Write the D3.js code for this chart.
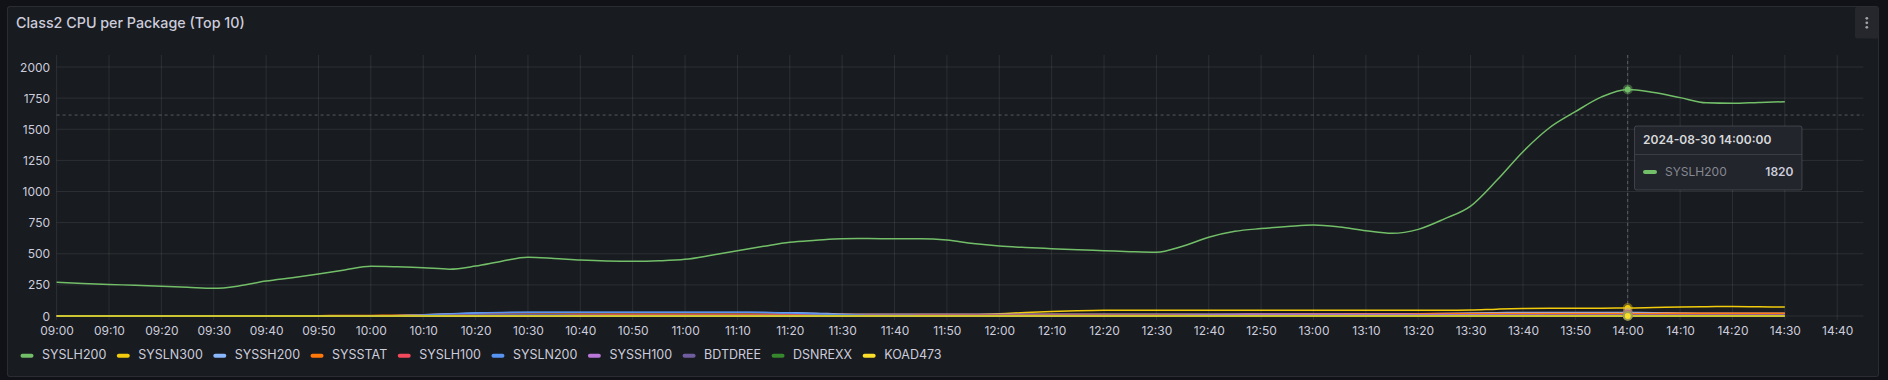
<!DOCTYPE html>
<html><head><meta charset="utf-8">
<script src="https://cdn.jsdelivr.net/npm/d3@7"></script>
<style>
html,body{margin:0;padding:0;background:#111217;}
body{width:1888px;height:380px;overflow:hidden;font-family:Inter,"Noto Sans",sans-serif;}
</style></head><body>
<svg id="chart" width="1888" height="380"></svg>
<script>
// ---------- DATA ----------
const times = ["09:00","09:05","09:10","09:15","09:20","09:25","09:30","09:35","09:40","09:45","09:50","09:55",
"10:00","10:05","10:10","10:15","10:20","10:25","10:30","10:35","10:40","10:45","10:50","10:55",
"11:00","11:05","11:10","11:15","11:20","11:25","11:30","11:35","11:40","11:45","11:50","11:55",
"12:00","12:05","12:10","12:15","12:20","12:25","12:30","12:35","12:40","12:45","12:50","12:55",
"13:00","13:05","13:10","13:15","13:20","13:25","13:30","13:35","13:40","13:45","13:50","13:55",
"14:00","14:05","14:10","14:15","14:20","14:25","14:30"];
const seriesNames = ["SYSLH200","SYSLN300","SYSSH200","SYSSTAT","SYSLH100","SYSLN200","SYSSH100","BDTDREE","DSNREXX","KOAD473"];
const SYSLH200 = [271,262,254,246,238,230,222,243,281,308,337,370,
399,395,388,376,401,440,471,462,450,442,439,443,
455,488,525,560,592,608,621,622,621,621,610,582,
562,550,541,532,525,517,512,560,632,680,702,718,
731,715,685,664,696,780,883,1090,1320,1510,1641,1760,
1820,1795,1754,1712,1708,1715,1721];
const SYSLN300 = [0,0,0,0,0,0,0,0,0,0,0,0,
0,0,0,0,0,0,0,0,0,0,0,0,
0,0,0,0,0,0,0,0,0,0,1,8,
18,28,36,42,46,47,47,46,46,46,46,46,
46,46,46,46,46,46,48,55,60,62,62,63,
64,68,72,75,76,74,72];
const SYSSH200 = [0,0,0,0,0,0,0,0,0,0,0,0,
0,4,10,18,24,27,28,28,28,28,28,28,
28,28,28,28,26,22,16,14,14,14,14,14,
14,14,14,14,14,14,14,14,14,14,14,14,
14,14,14,16,18,20,24,27,28,28,28,28,
28,27,24,22,22,22,22];
const SYSSTAT = [3,3,3,3,3,3,3,3,3,3,3,4,
5,7,10,12,13,14,15,15,15,15,15,15,
15,15,15,14,13,12,12,12,12,12,12,12,
12,12,12,12,12,12,12,12,12,13,14,15,
16,17,18,18,19,20,20,21,21,21,21,21,
21,21,22,22,22,22,22];
const SYSLH100 = [0,0,0,0,0,0,0,0,0,0,0,0,
0,2,4,6,7,8,8,8,8,8,8,8,
8,8,8,8,8,8,8,8,8,8,8,8,
8,8,8,8,8,8,8,8,8,8,8,8,
8,8,8,8,8,8,8,8,8,8,8,8,
8,8,8,8,8,8,8];
const SYSLN200 = [0,0,0,0,0,0,0,0,0,0,0,0,
1,3,8,16,24,28,30,30,30,30,30,30,
30,30,30,29,24,16,10,7,6,5,5,5,
5,5,5,5,5,5,5,5,5,5,5,5,
5,5,5,5,5,5,5,5,5,5,5,5,
5,5,5,5,5,5,5];
const SYSSH100 = [0,0,0,0,0,0,0,0,0,0,0,0,
0,0,0,0,0,0,0,0,0,0,0,0,
0,0,0,0,0,0,0,0,0,0,0,0,
0,0,0,0,0,0,2,6,10,13,14,14,
14,14,14,14,13,12,10,8,6,5,5,5,
5,5,5,5,5,5,5];
const BDTDREE = [0,0,0,0,0,0,0,0,0,0,0,0,
0,1,3,7,11,12,12,10,7,5,4,4,
4,4,4,4,4,4,4,4,4,4,4,4,
4,4,4,4,4,4,4,4,4,4,4,4,
4,4,4,4,4,4,4,4,4,4,4,4,
4,4,4,4,4,4,4];
const DSNREXX = [1,1,1,1,1,1,1,1,1,1,1,1,
1,1,2,2,2,2,2,2,2,2,2,2,
2,2,2,2,2,2,2,2,2,2,2,2,
2,2,2,2,2,2,2,2,2,2,2,2,
2,2,2,2,2,2,2,2,2,2,2,2,
2,2,2,2,2,2,2];
const KOAD473 = [0,0,0,0,0,0,0,0,0,0,0,0,
0,0,0,0,0,0,0,0,0,0,0,0,
0,0,0,0,0,0,0,0,0,0,0,0,
0,0,0,0,0,0,0,0,0,0,0,0,
0,0,0,0,0,0,0,0,0,0,0,0,
0,0,0,0,0,0,0];
const seriesValues = [SYSLH200,SYSLN300,SYSSH200,SYSSTAT,SYSLH100,SYSLN200,SYSSH100,BDTDREE,DSNREXX,KOAD473];
const yTicks = [0,250,500,750,1000,1250,1500,1750,2000];
const xDomain = ["09:00","14:45"];
const hoverTime = "14:00";
const hoverValue = 1614;
const tooltipTitle = "2024-08-30 14:00:00";
const titleText = "Class2 CPU per Package (Top 10)";

// ---------- STYLE ----------
const colors = ["#73BF69","#F2CC0C","#8AB8FF","#FF780A","#F2495C","#5794F2","#B877D9","#705DA0","#37872D","#FADE2A"];
const textColor = "#ccccdc";
const gridColor = "rgba(240,250,255,0.09)";

const parse = d3.timeParse("%Y-%m-%d %H:%M");
const t = s => parse("2024-08-30 " + s);

const svg = d3.select("#chart");
// panel
svg.append("rect").attr("x",7.5).attr("y",6.5).attr("width",1871).attr("height",370).attr("rx",2)
  .attr("fill","#181b1f").attr("stroke","rgba(204,204,220,0.12)");
svg.append("text").attr("x",16).attr("y",27.5).attr("fill",textColor)
  .attr("font-size",14.3).attr("font-weight",500).text(titleText);
// menu button
svg.append("rect").attr("x",1855).attr("y",7).attr("width",23.5).attr("height",31.5).attr("rx",2)
  .attr("fill","#25272c");
[18.3,22.8,27.3].forEach(cy=>svg.append("circle").attr("cx",1866.8).attr("cy",cy).attr("r",1.4).attr("fill","#a0a2aa"));

const L = 56.6, R = 1863.4, T = 55, B = 316;
const x = d3.scaleTime().domain(xDomain.map(t)).range([L,R]);
const y = d3.scaleLinear().domain([0,2000]).range([B,67]);

// grid
const g = svg.append("g");
const xt = d3.timeMinute.every(10).range(t("09:00"), t("14:45"));
g.selectAll(".vg").data(xt).join("line").attr("x1",d=>x(d)).attr("x2",d=>x(d))
  .attr("y1",T).attr("y2",B+4).attr("stroke",gridColor);
g.selectAll(".hg").data(yTicks).join("line").attr("x1",L).attr("x2",R)
  .attr("y1",d=>y(d)).attr("y2",d=>y(d)).attr("stroke",gridColor);

// axes via d3
const xAxis = d3.axisBottom(x).tickValues(xt).tickFormat(d3.timeFormat("%H:%M")).tickSize(0).tickPadding(0);
const xa = svg.append("g").attr("transform",`translate(0,${B})`).call(xAxis);
xa.select(".domain").remove();
xa.selectAll("text").attr("fill",textColor).attr("font-size",12).attr("font-family","Inter").attr("dy",null).attr("y",19);
const yAxis = d3.axisLeft(y).tickValues(yTicks).tickFormat(d3.format("d")).tickSize(0).tickPadding(0);
const ya = svg.append("g").attr("transform",`translate(${L-6.5},0)`).call(yAxis);
ya.select(".domain").remove();
ya.selectAll("text").attr("fill",textColor).attr("font-size",12).attr("font-family","Inter").attr("dy","0.34em");

// crosshair
svg.append("line").attr("x1",L).attr("x2",R).attr("y1",y(hoverValue)).attr("y2",y(hoverValue))
  .attr("stroke","rgba(204,204,220,0.35)").attr("stroke-dasharray","3,3");
svg.append("line").attr("x1",x(t(hoverTime))).attr("x2",x(t(hoverTime))).attr("y1",T).attr("y2",B)
  .attr("stroke","rgba(204,204,220,0.35)").attr("stroke-dasharray","3,3");

// lines
const line = d3.line().x((d,i)=>x(t(times[i]))).y(d=>y(d)).curve(d3.curveMonotoneX);
const lg = svg.append("g");
seriesValues.forEach((vals,k)=>{
  lg.append("path").attr("d",line(vals)).attr("fill","none").attr("stroke",colors[k]).attr("stroke-width",1.5);
});
// hover points
const hi = times.indexOf(hoverTime);
seriesValues.forEach((vals,k)=>{
  const cx = x(t(times[hi])), cy = y(vals[hi]);
  lg.append("circle").attr("cx",cx).attr("cy",cy).attr("r",5).attr("fill",colors[k]).attr("opacity",0.4);
  lg.append("circle").attr("cx",cx).attr("cy",cy).attr("r",3).attr("fill",colors[k]);
});

// legend
const leg = svg.append("g");
let lx = 20.5;
seriesNames.forEach((n,k)=>{
  leg.append("rect").attr("x",lx).attr("y",353.8).attr("width",13).attr("height",4).attr("rx",2).attr("fill",colors[k]);
  const tx = leg.append("text").attr("x",lx+21.5).attr("y",358.8).attr("fill",textColor).attr("font-size",12.5).text(n);
  lx += 21.5 + tx.node().getComputedTextLength() + 10.5;
});

// tooltip
const tg = svg.append("g");
tg.append("rect").attr("x",1634.5).attr("y",126).attr("width",167.5).attr("height",64).attr("rx",2)
  .attr("fill","#22252b").attr("stroke","rgba(204,204,220,0.2)");
tg.append("line").attr("x1",1635).attr("x2",1801.5).attr("y1",154.5).attr("y2",154.5).attr("stroke","rgba(204,204,220,0.15)");
tg.append("text").attr("x",1643).attr("y",144).attr("fill","#d8d9dc").attr("font-size",12).attr("font-weight",600).text(tooltipTitle);
tg.append("rect").attr("x",1643).attr("y",170).attr("width",14).attr("height",4).attr("rx",2).attr("fill",colors[0]);
tg.append("text").attr("x",1665).attr("y",176).attr("fill","rgba(204,204,220,0.6)").attr("font-size",12).text(seriesNames[0]);
tg.append("text").attr("x",1793.5).attr("y",176).attr("text-anchor","end").attr("fill",textColor).attr("font-size",12).attr("font-weight",600).text(SYSLH200[hi]);
</script>
</body></html>
